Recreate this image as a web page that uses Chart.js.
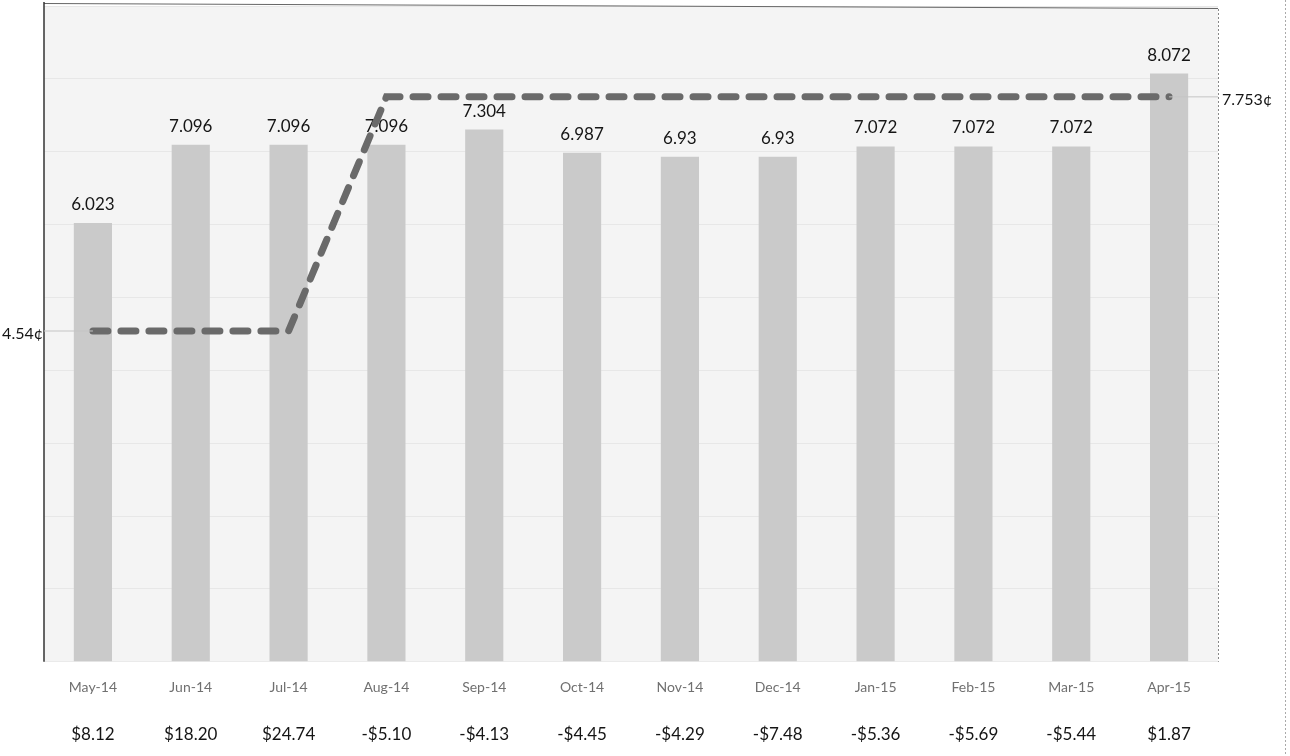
<!DOCTYPE html>
<html>
<head>
<meta charset="utf-8">
<script src="https://cdn.jsdelivr.net/npm/chart.js@4"></script>
<style>
  html, body { margin: 0; padding: 0; background: #ffffff; }
  #wrap { width: 1290px; height: 756px; position: relative; }
</style>
</head>
<body>
<div id="wrap"><canvas id="chart" width="1290" height="756"></canvas></div>
<script>
// Monthly rate (bars), average rate (dashed line) and monthly dollar difference
const months = ['May-14', 'Jun-14', 'Jul-14', 'Aug-14', 'Sep-14', 'Oct-14',
                'Nov-14', 'Dec-14', 'Jan-15', 'Feb-15', 'Mar-15', 'Apr-15'];
const monthlyRate = [6.023, 7.096, 7.096, 7.096, 7.304, 6.987,
                     6.93, 6.93, 7.072, 7.072, 7.072, 8.072];
const averageRate = [4.54, 4.54, 4.54, 7.753, 7.753, 7.753,
                     7.753, 7.753, 7.753, 7.753, 7.753, 7.753];
const dollarDiff = ['$8.12', '$18.20', '$24.74', '-$5.10', '-$4.13', '-$4.45',
                    '-$4.29', '-$7.48', '-$5.36', '-$5.69', '-$5.44', '$1.87'];
const rateStart = averageRate[0];
const rateEnd = averageRate[averageRate.length - 1];

const FONT = 'Lato, "Open Sans", sans-serif';

// Tinted plot background and faint frame
const framePlugin = {
  id: 'frame',
  beforeDraw(chart) {
    const { ctx, chartArea: a } = chart;
    ctx.save();
    ctx.fillStyle = '#f4f4f4';
    ctx.fillRect(a.left, a.top, a.right - a.left, a.bottom - a.top);
    ctx.restore();
  },
  afterDraw(chart) {
    const { ctx, chartArea: a } = chart;
    ctx.save();
    // top edge
    ctx.strokeStyle = '#666';
    ctx.lineWidth = 1.2;
    ctx.beginPath();
    ctx.moveTo(a.left, a.top - 2.5);
    ctx.lineTo(a.right, a.top + 2.5);
    ctx.stroke();
    // left edge
    ctx.strokeStyle = '#333';
    ctx.lineWidth = 1.5;
    ctx.beginPath();
    ctx.moveTo(a.left, a.top - 4);
    ctx.lineTo(a.left, a.bottom);
    ctx.stroke();
    // right edge, dotted
    ctx.strokeStyle = '#888';
    ctx.lineWidth = 1;
    ctx.setLineDash([2, 2]);
    ctx.beginPath();
    ctx.moveTo(a.right + 0.5, a.top + 3);
    ctx.lineTo(a.right + 0.5, a.bottom);
    ctx.stroke();
    // page edge, dotted
    ctx.strokeStyle = '#aaa';
    ctx.beginPath();
    ctx.moveTo(1285.5, 0);
    ctx.lineTo(1285.5, 756);
    ctx.stroke();
    ctx.setLineDash([]);

    // start / end rate labels with thin leaders
    const y = chart.scales.y;
    const x = chart.scales.x;
    const y0 = y.getPixelForValue(rateStart);
    const y1 = y.getPixelForValue(rateEnd);
    ctx.strokeStyle = '#c4c4c4';
    ctx.lineWidth = 1;
    ctx.beginPath();
    ctx.moveTo(a.left, y0);
    ctx.lineTo(x.getPixelForValue(0), y0);
    ctx.moveTo(x.getPixelForValue(months.length - 1), y1);
    ctx.lineTo(a.right, y1);
    ctx.stroke();

    ctx.fillStyle = '#151515';
    ctx.font = '16px ' + FONT;
    ctx.textBaseline = 'middle';
    ctx.textAlign = 'right';
    ctx.fillText(rateStart + '\u00A2', a.left - 1, y0 + 3);
    ctx.textAlign = 'left';
    ctx.fillText(rateEnd + '\u00A2', a.right + 4, y1 + 3);
    ctx.restore();
  }
};

// Value labels above bars, drawn before the dashed line
const barLabelPlugin = {
  id: 'barLabels',
  afterDatasetDraw(chart, args) {
    if (args.meta.type !== 'bar') return;
    const { ctx } = chart;
    const ds = chart.data.datasets[args.index];
    ctx.save();
    ctx.fillStyle = '#151515';
    ctx.font = '17px ' + FONT;
    ctx.textAlign = 'center';
    ctx.textBaseline = 'bottom';
    args.meta.data.forEach((bar, i) => {
      ctx.fillText(String(ds.data[i]), bar.x, bar.y - 10);
    });
    ctx.restore();
  }
};

new Chart(document.getElementById('chart'), {
  data: {
    labels: months,
    datasets: [
      {
        type: 'line',
        label: 'Average rate',
        data: averageRate,
        order: 0,
        borderColor: '#6a6a6a',
        borderWidth: 7,
        borderDash: [15, 13],
        borderCapStyle: 'round',
        pointRadius: 0,
        tension: 0,
        fill: false,
        xAxisID: 'x'
      },
      {
        type: 'bar',
        label: 'Monthly rate',
        data: monthlyRate,
        order: 1,
        backgroundColor: '#cacaca',
        barPercentage: 0.39,
        categoryPercentage: 1,
        xAxisID: 'x'
      }
    ]
  },
  options: {
    responsive: false,
    animation: false,
    layout: { padding: { left: 44, right: 72, top: 6, bottom: 0 } },
    plugins: {
      legend: { display: false },
      tooltip: { enabled: false }
    },
    scales: {
      x: {
        type: 'category',
        position: 'bottom',
        grid: { display: false, drawTicks: false },
        border: { display: false },
        ticks: {
          color: '#707070',
          font: { family: FONT, size: 14 },
          padding: 17.5,
          maxRotation: 0,
          autoSkip: false
        }
      },
      x2: {
        type: 'category',
        position: 'bottom',
        labels: dollarDiff,
        offset: true,
        grid: { display: false, drawTicks: false },
        border: { display: false },
        ticks: {
          color: '#151515',
          font: { family: FONT, size: 17 },
          padding: 11,
          maxRotation: 0,
          autoSkip: false
        }
      },
      y: {
        min: 0,
        max: 9,
        grid: { color: 'rgba(0,0,0,0.05)', drawTicks: false },
        border: { display: false },
        ticks: { display: false, stepSize: 1 }
      }
    }
  },
  plugins: [framePlugin, barLabelPlugin]
});
</script>
</body>
</html>
